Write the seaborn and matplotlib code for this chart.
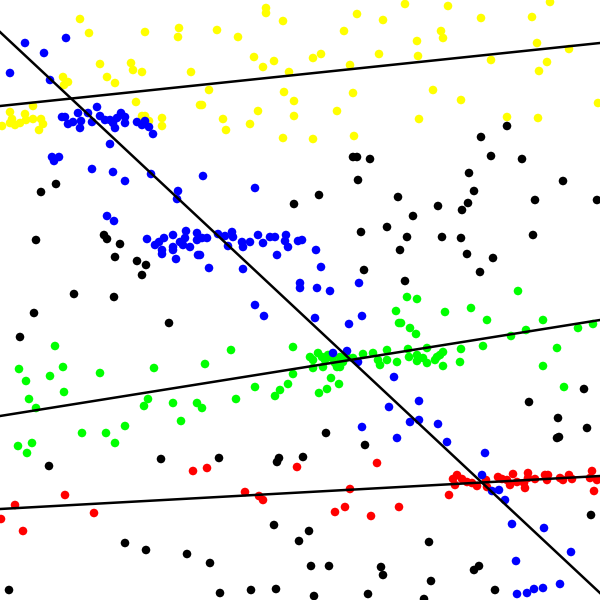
import numpy as np
import pandas as pd
import matplotlib
matplotlib.use("Agg")
import matplotlib.pyplot as plt
import seaborn as sns

# ---- data (pixel-like units, y grows downward) ----
yellow_x = [80, 89, 145, 179, 178, 100, 131, 133, 142, 191, 63, 68, 64, 107, 115, 136, 33, 10, 12, 2,
            10, 15, 20, 25, 26, 33, 41, 43, 39, 142, 145, 149, 162, 162, 200,
            266, 266, 283, 217, 238, 254, 263, 274, 289, 313, 321, 357, 383, 344, 379, 350, 209, 202,
            284, 294, 258, 294, 223, 250, 226, 353, 337, 283, 313, 354,
            405, 448, 550, 481, 532, 441, 443, 417, 418, 537, 569, 491, 547, 539, 433, 461, 598, 419,
            507, 538]
yellow_y = [19, 33, 32, 28, 37, 64, 63, 70, 72, 72, 77, 82, 85, 77, 83, 102, 106, 112, 119, 126,
            123, 125, 123, 114, 120, 119, 119, 124, 130, 116, 116, 121, 118, 126, 105,
            8, 13, 21, 30, 37, 57, 67, 61, 72, 58, 54, 14, 20, 31, 54, 65, 90, 105,
            92, 101, 111, 116, 119, 124, 130, 93, 111, 138, 139, 136,
            4, 6, 2, 18, 17, 31, 38, 41, 56, 43, 49, 60, 62, 71, 90, 100, 103, 119,
            117, 118]

blue_x = [25, 66, 44, 10, 50, 97, 62, 65, 68, 73, 78, 81, 80, 88, 92, 100, 105, 110, 113, 115, 117,
          121, 125, 125, 137, 142, 145, 149, 153, 110, 52, 54, 59, 92, 113, 125, 151, 178, 177,
          203, 255,
          107, 114, 147, 155, 159, 164, 162, 162, 173, 173, 173, 180, 185, 186, 183, 190, 197, 197,
          198, 176,
          202, 207, 218, 225, 232, 233, 242, 243, 250, 258, 263, 270, 275, 286, 285, 288, 298, 302,
          228, 200, 277, 316, 209, 243, 321, 300, 300, 317, 330, 359, 255, 264, 315, 362, 349, 347,
          333, 358, 394,
          419, 389, 362, 397, 410, 419, 438, 447, 485, 482, 492, 499, 505, 512, 544, 571, 516, 560,
          517, 527, 534, 543]
blue_y = [43, 38, 53, 73, 80, 107, 117, 117, 124, 122, 113, 121, 128, 113, 122, 116, 120, 120, 123,
          128, 118, 113, 117, 123, 122, 125, 121, 127, 134, 144, 157, 161, 157, 169, 172, 181, 174,
          191, 199,
          176, 188,
          216, 221, 239, 245, 242, 238, 250, 254, 235, 247, 250, 242, 238, 231, 245, 247, 233, 240,
          255, 259,
          238, 238, 234, 236, 232, 237, 242, 247, 242, 235, 243, 237, 237, 235, 241, 247, 241, 240,
          246, 255, 255, 250, 268, 269, 267, 283, 288, 288, 291, 283, 305, 316, 318, 316, 324, 351,
          353, 362, 377,
          401, 407, 427, 438, 422, 420, 424, 442, 453, 475, 491, 490, 500, 524, 528, 552, 561, 584,
          594, 593, 589, 588]

black_x = [56, 41, 353, 357, 370, 358, 319, 398, 507, 481, 491, 522, 469, 474, 563, 535,
           36, 104, 107, 120, 115, 137, 146, 142, 74, 114, 34, 169, 20,
           294, 361, 387, 364, 413, 438, 462, 468, 597, 407, 442, 461, 533, 467, 493, 480, 405, 400,
           584,
           49, 161, 125, 146, 187, 9,
           326, 365, 219, 279, 277, 303, 274, 309, 299, 210, 311, 329, 381, 383, 220, 251, 276, 314,
           368,
           529, 558, 587, 557, 559, 591, 429, 474, 479, 431, 495, 424]
black_y = [184, 192, 157, 157, 159, 180, 195, 197, 126, 137, 156, 159, 173, 191, 181, 200,
           240, 235, 239, 244, 257, 261, 265, 275, 294, 297, 313, 323, 337,
           204, 232, 227, 270, 216, 206, 210, 203, 200, 237, 237, 238, 235, 254, 258, 272, 281, 250,
           389,
           466, 459, 543, 550, 554, 590,
           433, 445, 458, 458, 462, 457, 525, 531, 541, 563, 566, 566, 567, 575, 593, 590, 589, 596,
           594,
           402, 418, 428, 438, 437, 515, 542, 570, 566, 581, 590, 599]

green_x = [55, 19, 63, 26, 50, 100, 154, 64, 29, 148,
           231, 205, 293, 310, 313, 318, 322, 325, 328, 332, 335, 340, 343, 347, 313, 323, 337, 340,
           353, 363, 373, 378, 380, 387, 387, 397, 293, 288, 280, 255, 275, 319, 327, 331, 339, 396,
           399, 236,
           407, 417, 518, 445, 471, 487, 543, 401, 410, 416, 526, 511, 578, 593, 461, 483, 557, 408,
           409, 417, 417, 423, 427, 427, 435, 437, 440, 443, 443, 460, 543, 564,
           36, 144, 173, 197, 181, 125, 82, 106, 115, 18, 32, 27, 202]
green_y = [346, 369, 367, 381, 376, 373, 368, 392, 399, 399,
           350, 364, 347, 357, 360, 353, 357, 360, 355, 358, 363, 357, 362, 357, 368, 367, 367, 367,
           358, 354, 353, 360, 365, 350, 360, 362, 374, 384, 390, 387, 396, 393, 389, 378, 384, 311,
           323, 399,
           297, 299, 291, 312, 308, 320, 320, 323, 328, 334, 330, 336, 328, 324, 349, 346, 348, 349,
           357, 355, 361, 358, 363, 348, 360, 357, 355, 352, 366, 362, 366, 387,
           408, 406, 403, 403, 421, 426, 433, 433, 443, 446, 443, 453, 408]

red_x = [193, 65, 15, 1, 94, 23,
         207, 297, 377, 245, 259, 263, 350, 335, 345, 371, 399,
         453, 457, 455, 462, 467, 472, 477, 486, 487, 498, 502, 507, 510, 513, 517, 524, 525, 528,
         528, 535, 545, 548, 547, 560, 563, 569, 572, 592, 590, 597, 594, 449]
red_y = [471, 495, 505, 519, 513, 531,
         468, 467, 463, 492, 496, 500, 489, 512, 507, 516, 507,
         479, 475, 485, 479, 482, 483, 486, 480, 487, 477, 479, 480, 485, 474, 482, 483, 488, 473,
         478, 479, 475, 475, 480, 478, 480, 475, 479, 471, 478, 480, 491, 495]

# fitted lines: value at left edge and at right edge
line_names = ["blue", "yellow", "green", "red"]
line_left = [32, 106, 416, 509]
line_right = [593, 43, 320, 476]

groups = [("yellow", yellow_x, yellow_y, "#ffff00"),
          ("green", green_x, green_y, "#00ff00"),
          ("red", red_x, red_y, "#ff0000"),
          ("black", black_x, black_y, "#000000"),
          ("blue", blue_x, blue_y, "#0000ff")]

frames = [pd.DataFrame({"x": gx, "y": gy, "group": name}) for name, gx, gy, _ in groups]
df = pd.concat(frames, ignore_index=True)
palette = {name: col for name, _, _, col in groups}

fig = plt.figure(figsize=(6, 6), dpi=100)
ax = fig.add_axes([0, 0, 1, 1])
sns.scatterplot(data=df, x="x", y="y", hue="group", palette=palette,
                hue_order=[g[0] for g in groups], s=38, linewidth=0,
                legend=False, ax=ax)

xs = np.array([0, 600])
lines_df = pd.concat([pd.DataFrame({"x": xs, "y": [l, r], "line": n})
                      for n, l, r in zip(line_names, line_left, line_right)],
                     ignore_index=True)
for n in line_names:
    sub = lines_df[lines_df["line"] == n]
    ax.plot(sub["x"], sub["y"], color="black", lw=1.8, zorder=5)

ax.set_xlim(0, 600)
ax.set_ylim(600, 0)
ax.set_axis_off()
fig.savefig("out.png", dpi=100, facecolor="white")
